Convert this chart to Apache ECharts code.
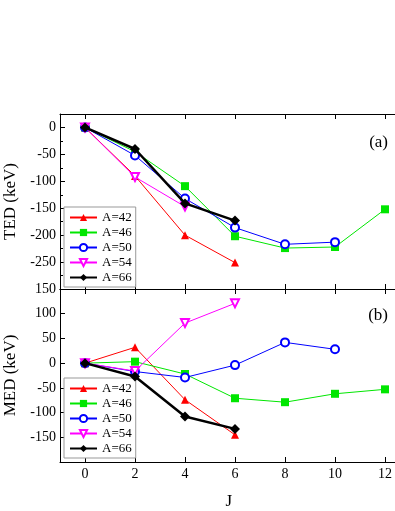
<!DOCTYPE html>
<html>
<head>
<meta charset="utf-8">
<script src="https://cdn.jsdelivr.net/npm/echarts@6/dist/echarts.min.js"></script>
<style>
html, body { margin: 0; padding: 0; background: #fff; }
#main { width: 395px; height: 511px; }
</style>
</head>
<body>
<div id="main"></div>
<script>
var chart = echarts.init(document.getElementById('main'));

// J values and tick labels
var xTicks = [0, 2, 4, 6, 8, 10, 12];
var names = ['A=42', 'A=46', 'A=50', 'A=54', 'A=66'];

// TED (keV), panel (a)
var ted42 = [[0, 0], [2, -90], [4, -200], [6, -251]];
var ted46 = [[0, 0], [2, -45], [4, -109], [6, -202], [8, -224], [10, -222], [12, -152]];
var ted50 = [[0, 0], [2, -52], [4, -132], [6, -186], [8, -217], [10, -213]];
var ted54 = [[0, 0], [2, -92], [4, -147]];
var ted66 = [[0, 0], [2, -40], [4, -141], [6, -173]];

// MED (keV), panel (b)
var med42 = [[0, 0], [2, 32], [4, -74], [6, -145]];
var med46 = [[0, 0], [2, 3], [4, -22], [6, -71], [8, -79], [10, -62], [12, -53]];
var med50 = [[0, 0], [2, -17], [4, -29], [6, -4], [8, 42], [10, 28]];
var med54 = [[0, 0], [2, -16], [4, 81], [6, 121]];
var med66 = [[0, 0], [2, -27], [4, -108], [6, -133]];

var tedTicks = [0, -50, -100, -150, -200, -250];
var medTicks = [150, 100, 50, 0, -50, -100, -150];

var font = 'Liberation Serif';
var styles = [
    {color: '#ff0000', symbol: 'triangle', rot: 0, width: 1},
    {color: '#00e600', symbol: 'rect', rot: 0, width: 1},
    {color: '#0000ff', symbol: 'emptyCircle', rot: 0, width: 1},
    {color: '#ff00ff', symbol: 'emptyTriangle', rot: 180, width: 1},
    {color: '#000000', symbol: 'diamond', rot: 0, width: 2.5}
];

function makeSeries(list, idx) {
    return list.map(function (d, i) {
        var s = styles[i];
        return {
            name: names[i],
            type: 'line',
            xAxisIndex: idx * 2,
            yAxisIndex: idx,
            data: d,
            symbol: s.symbol,
            symbolRotate: s.rot,
            symbolSize: i == 4 ? 10 : 8,
            itemStyle: {color: s.color, borderWidth: 1.3},
            lineStyle: {color: s.color, width: s.width},
            z: 2 + i,
            animation: false
        };
    });
}

function xAx(grid, pos, labels) {
    return {
        type: 'value',
        gridIndex: grid,
        position: pos,
        min: -1,
        max: 12.5,
        name: labels ? 'J' : '',
        nameLocation: 'middle',
        nameGap: 31,
        nameTextStyle: {fontFamily: font, fontSize: 17, color: '#000'},
        axisLine: {show: true, onZero: false, lineStyle: {color: '#000', width: 1}},
        axisTick: {show: true, inside: true, length: 5, customValues: xTicks, lineStyle: {color: '#000'}},
        axisLabel: {show: labels, customValues: xTicks, fontFamily: font, fontSize: 14, color: '#000', margin: 5},
        splitLine: {show: false}
    };
}

function yAx(grid, name, min, max, ticks) {
    return {
        type: 'value',
        gridIndex: grid,
        min: min,
        max: max,
        name: name,
        nameLocation: 'middle',
        nameGap: 37,
        nameRotate: 90,
        nameTextStyle: {fontFamily: font, fontSize: 17, color: '#000'},
        axisLine: {show: true, onZero: false, lineStyle: {color: '#000', width: 1}},
        axisTick: {show: true, inside: true, length: 5, customValues: ticks, lineStyle: {color: '#000'}},
        minorTick: {show: true, splitNumber: 2, length: 3, lineStyle: {color: '#000'}},
        axisLabel: {customValues: ticks, fontFamily: font, fontSize: 14, color: '#000', margin: 4},
        splitLine: {show: false}
    };
}

function legend(top) {
    return {
        data: names,
        orient: 'vertical',
        left: 64,
        top: top,
        itemWidth: 27,
        itemHeight: 9,
        itemGap: 2,
        padding: [4, 4, 3, 5],
        borderColor: '#999',
        borderWidth: 1,
        backgroundColor: '#fff',
        selectedMode: false,
        textStyle: {fontFamily: font, fontSize: 13, color: '#000'}
    };
}

var option = {
    animation: false,
    textStyle: {fontFamily: font},
    title: [
        {text: '(a)', right: 2, top: 129, textStyle: {fontFamily: font, fontSize: 17, fontWeight: 'normal', color: '#000'}},
        {text: '(b)', right: 2, top: 302, textStyle: {fontFamily: font, fontSize: 17, fontWeight: 'normal', color: '#000'}}
    ],
    legend: [legend(207), legend(378)],
    grid: [
        {left: 60, top: 114, width: 337.5, height: 175, outerBoundsMode: 'none', containLabel: false},
        {left: 60, top: 289, width: 337.5, height: 173, outerBoundsMode: 'none', containLabel: false}
    ],
    xAxis: [
        xAx(0, 'bottom', false),
        xAx(0, 'top', false),
        xAx(1, 'bottom', true),
        xAx(1, 'top', false)
    ],
    yAxis: [
        yAx(0, 'TED (keV)', -300, 25, tedTicks),
        yAx(1, 'MED (keV)', -200, 150, medTicks)
    ],
    series: makeSeries([ted42, ted46, ted50, ted54, ted66], 0)
        .concat(makeSeries([med42, med46, med50, med54, med66], 1))
};

chart.setOption(option);
</script>
</body>
</html>
